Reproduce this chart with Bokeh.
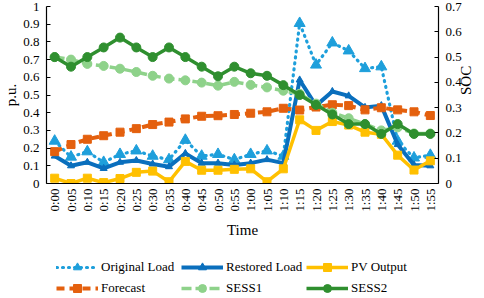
import math
from bokeh.plotting import figure
from bokeh.layouts import column
from bokeh.models import FactorRange, Range1d, LinearAxis, FixedTicker, Legend, LegendItem
from bokeh.embed import file_html
from bokeh.resources import INLINE

times = ["0:00", "0:05", "0:10", "0:15", "0:20", "0:25", "0:30", "0:35", "0:40", "0:45",
         "0:50", "0:55", "1:00", "1:05", "1:10", "1:15", "1:20", "1:25", "1:30", "1:35",
         "1:40", "1:45", "1:50", "1:55"]

original_load = [0.24, 0.15, 0.18, 0.12, 0.165, 0.185, 0.155, 0.135, 0.245, 0.155, 0.165, 0.135,
                 0.165, 0.185, 0.155, 0.905, 0.67, 0.795, 0.75, 0.65, 0.66, 0.24, 0.145, 0.16]
restored_load = [0.155, 0.10, 0.12, 0.085, 0.12, 0.13, 0.11, 0.095, 0.17, 0.115, 0.115, 0.105,
                 0.115, 0.135, 0.115, 0.585, 0.44, 0.52, 0.495, 0.43, 0.44, 0.22, 0.105, 0.10]
pv_output = [0.03, 0.0, 0.03, 0.005, 0.028, 0.063, 0.07, 0.01, 0.125, 0.075, 0.075, 0.08,
             0.083, 0.01, 0.083, 0.36, 0.30, 0.35, 0.33, 0.29, 0.278, 0.16, 0.076, 0.128]
forecast = [0.18, 0.22, 0.25, 0.27, 0.29, 0.31, 0.333, 0.347, 0.365, 0.38, 0.383, 0.39,
            0.397, 0.405, 0.425, 0.415, 0.432, 0.445, 0.44, 0.416, 0.428, 0.416, 0.405, 0.384]
sess1 = [0.50, 0.49, 0.473, 0.465, 0.454, 0.441, 0.426, 0.415, 0.408, 0.399, 0.387, 0.402,
         0.39, 0.38, 0.367, 0.355, 0.316, 0.28, 0.258, 0.235, 0.21, 0.222, 0.198, 0.198]
sess2 = [0.50, 0.462, 0.50, 0.538, 0.577, 0.538, 0.50, 0.538, 0.50, 0.462, 0.424, 0.462,
         0.436, 0.426, 0.389, 0.35, 0.311, 0.273, 0.235, 0.235, 0.196, 0.235, 0.196, 0.196]

left_ticks = [0.0, 0.1, 0.2, 0.3, 0.4, 0.5, 0.6, 0.7, 0.8, 0.9, 1.0]
left_labels = ["0", "0.1", "0.2", "0.3", "0.4", "0.5", "0.6", "0.7", "0.8", "0.9", "1"]
right_ticks = [0.0, 0.1, 0.2, 0.3, 0.4, 0.5, 0.6, 0.7]
right_labels = ["0", "0.1", "0.2", "0.3", "0.4", "0.5", "0.6", "0.7"]

series_names = ["Original Load", "Restored Load", "PV Output", "Forecast", "SESS1", "SESS2"]

FONT = "'Liberation Serif'"
C_ORIG = "#1E9FDB"
C_REST = "#0A6FBD"
C_PV = "#FFC000"
C_FC = "#E4600E"
C_S1 = "#8ED28A"
C_S2 = "#2F8F2F"

# (color, line_width, line_dash, marker, marker_size)
styles = [
    (C_ORIG, 3.2, "1 5", "triangle", 11),
    (C_REST, 4, "solid", "triangle", 7),
    (C_PV, 3.5, "solid", "square", 8),
    (C_FC, 4, "8 5", "square", 8),
    (C_S1, 3.5, "10 4", "circle", 9),
    (C_S2, 3.5, "solid", "circle", 9),
]
series_values = [original_load, restored_load, pv_output, forecast, sess1, sess2]
series_axis = ["default", "default", "default", "default", "soc", "soc"]

p = figure(x_range=FactorRange(*times), y_range=Range1d(0, 1), width=484, height=240,
           output_backend="svg", toolbar_location=None,
           min_border_top=6, min_border_left=0, min_border_right=0, min_border_bottom=0)
p.extra_y_ranges = {"soc": Range1d(0, 0.7)}
p.outline_line_color = None
p.xgrid.grid_line_color = None
p.ygrid.grid_line_color = None

p.yaxis.ticker = FixedTicker(ticks=left_ticks)
p.yaxis.major_label_overrides = dict(zip(left_ticks, left_labels))
p.yaxis.axis_label = "p.u."

raxis = LinearAxis(y_range_name="soc", axis_label="SOC")
raxis.ticker = FixedTicker(ticks=right_ticks)
raxis.major_label_overrides = dict(zip(right_ticks, right_labels))
raxis.axis_label_orientation = math.pi / 2
p.add_layout(raxis, "right")

p.xaxis.axis_label = "Time"
p.xaxis.major_label_orientation = math.pi / 2

for ax in [p.xaxis[0], p.yaxis[0], raxis]:
    ax.axis_line_color = "black"
    ax.axis_line_width = 1.2
    ax.major_tick_line_color = "black"
    ax.minor_tick_line_color = None
    ax.major_tick_out = 0
    ax.major_tick_in = 4
    ax.major_label_text_font = FONT
    ax.major_label_text_font_size = "13px"
    ax.major_label_text_color = "black"
    ax.axis_label_text_font = FONT
    ax.axis_label_text_font_size = "15px"
    ax.axis_label_text_font_style = "normal"
    ax.axis_label_text_color = "black"
p.xaxis.major_tick_in = 0
p.xaxis.major_label_standoff = 5
p.xaxis.axis_label_standoff = 7
p.yaxis.major_label_standoff = 7
p.yaxis.axis_label_standoff = 1
raxis.major_label_standoff = 7
raxis.axis_label_standoff = 1

for vals, (col, lw, dash, mk, ms), yr in zip(series_values, styles, series_axis):
    p.line(times, vals, line_color=col, line_width=lw, line_dash=dash,
           line_cap="round" if dash == "1 5" else "butt", y_range_name=yr)
    p.scatter(times, vals, marker=mk, size=ms, fill_color=col, line_color=col, y_range_name=yr)

# legend strip below the chart; its renderers hold the series but lie outside its visible range
lg = figure(width=484, height=58, x_range=FactorRange(*times), y_range=Range1d(5, 6),
            x_axis_type=None, y_axis_type=None, output_backend="svg", toolbar_location=None,
            min_border=0)
lg.outline_line_color = None
lg.xgrid.grid_line_color = None
lg.ygrid.grid_line_color = None
items = []
for name, vals, (col, lw, dash, mk, ms) in zip(series_names, series_values, styles):
    rl = lg.line(times, vals, line_color=col, line_width=lw, line_dash=dash,
                 line_cap="round" if dash == "1 5" else "butt")
    rm = lg.scatter(times, vals, marker=mk, size=ms, fill_color=col, line_color=col)
    items.append(LegendItem(label=name, renderers=[rl, rm]))

legend = Legend(items=items, orientation="horizontal", ncols=3, location=(10, 0),
                glyph_width=42, glyph_height=20, label_standoff=3, label_width=79, spacing=1,
                padding=0, margin=0, border_line_color=None, background_fill_alpha=0,
                label_text_font=FONT, label_text_font_size="13px", label_text_color="black")
lg.add_layout(legend, "center")

layout = column(p, lg, spacing=0)
open("out.html", "w").write(file_html(layout, INLINE))
